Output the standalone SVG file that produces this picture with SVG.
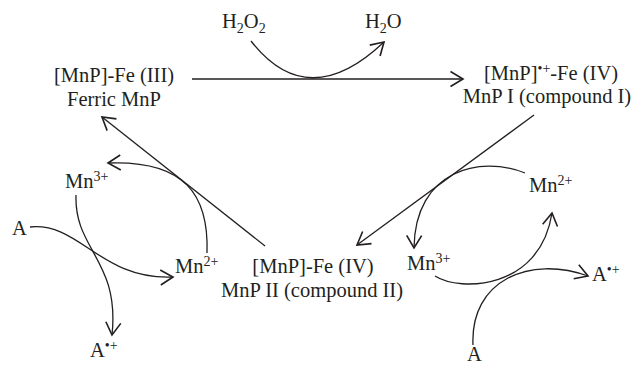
<svg xmlns="http://www.w3.org/2000/svg" width="637" height="366" viewBox="0 0 637 366">
<style>
text{font-family:"Liberation Serif","Times New Roman",serif;font-size:20.5px;fill:#231f20}
.sup{font-size:14px}
.sub{font-size:14px}
.c{text-anchor:middle}
.ln{fill:none;stroke:#231f20;stroke-width:1.3;marker-end:url(#ah)}
</style>
<defs>
<marker id="ah" markerUnits="userSpaceOnUse" markerWidth="20" markerHeight="20" viewBox="-12 -8 14 16" refX="0" refY="0" orient="auto">
<path d="M-10,-6 L0,0 L-10,6" fill="none" stroke="#231f20" stroke-width="1.3"/>
</marker>
</defs>
<g id="connectors">
<path class="ln" d="M192,79 L463,79"/>
<path class="ln" d="M251,41 Q308,114 384,42"/>
<path class="ln" d="M534,115 L357,245"/>
<path class="ln" d="M265,246 L102,117"/>
<path class="ln" d="M207,253 C209,195 185,160 108,163"/>
<path class="ln" d="M76,195 C74,250 120,260 112,335"/>
<path class="ln" d="M30,227 C80,222 100,280 173,277"/>
<path class="ln" d="M525,173 C480,155 415,170 414,248"/>
<path class="ln" d="M435,276 C460,292 540,290 552,213"/>
<path class="ln" d="M473,345 C470,280 530,255 588,276"/>
</g>
<g id="h2o2"><text x="222" y="28">H<tspan class="sub" dy="5">2</tspan><tspan dy="-5">O</tspan><tspan class="sub" dy="5">2</tspan></text></g>
<g id="h2o"><text x="365" y="28">H<tspan class="sub" dy="5">2</tspan><tspan dy="-5">O</tspan></text></g>
<g id="ferric">
<text class="c" x="114" y="82">[MnP]-Fe (III)</text>
<text class="c" x="114" y="106">Ferric MnP</text>
</g>
<g id="compound1">
<text class="c" x="551" y="80">[MnP]<tspan class="sup" dy="-7">•+</tspan><tspan dy="7">-Fe (IV)</tspan></text>
<text class="c" x="547" y="103">MnP I (compound I)</text>
</g>
<g id="compound2">
<text class="c" x="313" y="273">[MnP]-Fe (IV)</text>
<text class="c" x="312" y="297">MnP II (compound II)</text>
</g>
<g id="mn3-left"><text x="65" y="188">Mn<tspan class="sup" dy="-7">3+</tspan></text></g>
<g id="a-left"><text x="12" y="235">A</text></g>
<g id="mn2-left"><text x="175" y="273">Mn<tspan class="sup" dy="-7">2+</tspan></text></g>
<g id="arad-left"><text x="90" y="357">A<tspan class="sup" dy="-7">•+</tspan></text></g>
<g id="mn2-right"><text x="529" y="192">Mn<tspan class="sup" dy="-7">2+</tspan></text></g>
<g id="mn3-right"><text x="407" y="270">Mn<tspan class="sup" dy="-7">3+</tspan></text></g>
<g id="arad-right"><text x="592" y="281">A<tspan class="sup" dy="-7">•+</tspan></text></g>
<g id="a-bottom"><text x="467" y="361">A</text></g>
</svg>
